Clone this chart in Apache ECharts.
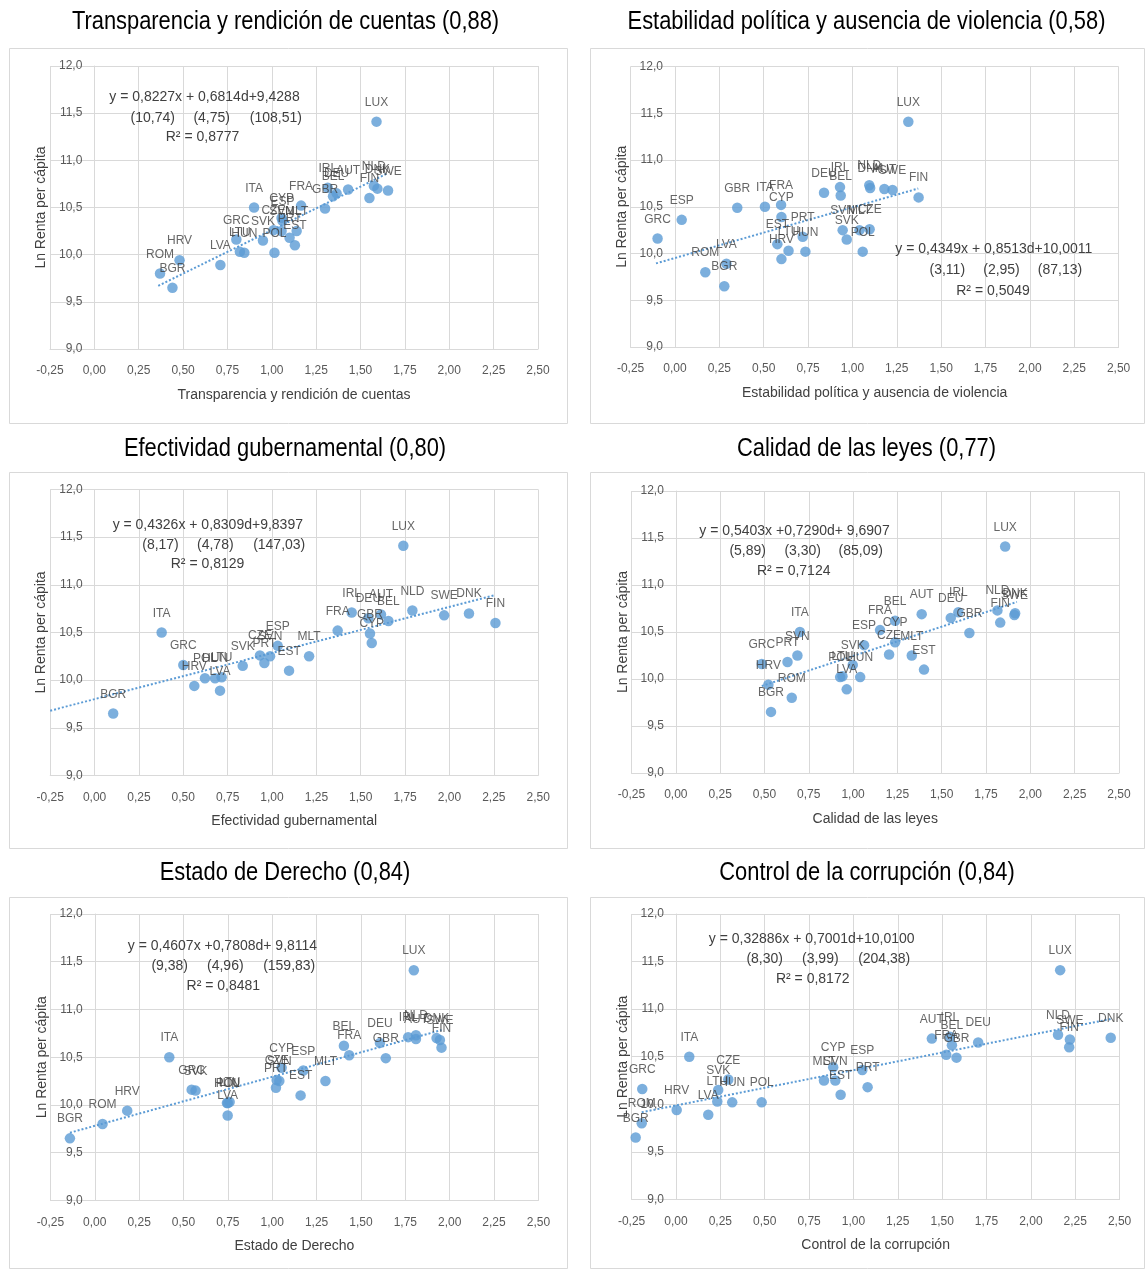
<!DOCTYPE html>
<html>
<head>
<meta charset="utf-8">
<script src="https://cdn.jsdelivr.net/npm/echarts@6/dist/echarts.min.js"></script>
<style>
  html, body { margin: 0; padding: 0; background: #ffffff; }
  #chart { width: 1145px; height: 1269px; }
</style>
</head>
<body>
<div id="chart"></div>
<script>
// Países de la UE-28 (mismo orden en todas las series)
const countries = ['AUT','BEL','BGR','CYP','CZE','DEU','DNK','ESP','EST','FIN','FRA','GBR','GRC','HRV',
                   'HUN','IRL','ITA','LTU','LUX','LVA','MLT','NLD','POL','PRT','ROM','SVK','SVN','SWE'];

// Logaritmo de la renta per cápita
const lnRentaPerCapita = [10.69, 10.62, 9.65, 10.39, 10.26, 10.65, 10.70, 10.36, 10.10, 10.60, 10.52, 10.49, 10.16, 9.94,
                          10.02, 10.71, 10.50, 10.03, 11.41, 9.89, 10.25, 10.73, 10.02, 10.18, 9.80, 10.15, 10.25, 10.68];

// Indicadores de gobernanza (null = fuera del rango representado)
const transparencia = [1.43, 1.345, 0.44, 1.055, 1.01, 1.365, 1.595, 1.06, 1.13, 1.55, 1.165, 1.30, 0.80, 0.48,
                       0.845, 1.315, 0.90, 0.82, 1.59, 0.71, 1.14, 1.575, 1.015, 1.10, 0.37, 0.95, 1.055, 1.655];
const estabilidad = [1.18, 0.934, 0.278, 0.60, 1.097, 0.84, 1.10, 0.038, 0.577, 1.373, 0.598, 0.351, -0.098, 0.60,
                     0.735, 0.93, 0.507, 0.64, 1.315, 0.29, 1.04, 1.095, 1.058, 0.72, 0.171, 0.968, 0.945, 1.226];
const efectividad = [1.614, 1.656, 0.105, 1.562, 0.932, 1.543, 2.11, 1.032, 1.096, 2.259, 1.37, 1.552, 0.50, 0.562,
                     0.679, 1.449, 0.378, 0.716, 1.74, 0.707, 1.209, 1.791, 0.622, 0.957, null, 0.835, 0.989, 1.97];
const calidadLeyes = [1.387, 1.237, 0.537, 1.237, 1.203, 1.551, 1.914, 1.062, 1.40, 1.83, 1.152, 1.656, 0.485, 0.522,
                      1.04, 1.594, 0.70, 0.94, 1.858, 0.964, 1.331, 1.814, 0.927, 0.63, 0.654, 0.998, 0.686, 1.91];
const estadoDerecho = [1.81, 1.404, -0.14, 1.053, 1.025, 1.607, 1.926, 1.175, 1.16, 1.954, 1.434, 1.64, 0.546, 0.183,
                       0.745, 1.766, 0.42, 0.76, 1.798, 0.749, 1.30, 1.81, 0.75, 1.021, 0.044, 0.568, 1.04, 1.945];
const controlCorrupcion = [1.442, 1.555, -0.227, 0.886, 0.295, 1.703, 2.45, 1.05, 0.928, 2.216, 1.523, 1.581, -0.19, 0.004,
                           0.317, 1.544, 0.075, 0.233, 2.165, 0.182, 0.834, 2.153, 0.483, 1.08, -0.193, 0.238, 0.898, 2.22];

const indicators = [transparencia, estabilidad, efectividad, calidadLeyes, estadoDerecho, controlCorrupcion];

// Líneas de tendencia lineal: extremos [x, y] inicial y final de cada panel
const trendStart = [[0.36, 9.67], [-0.107, 9.894], [-0.25, 9.68], [0.485, 9.925], [-0.14, 9.709], [-0.193, 9.916]];
const trendEnd   = [[1.65, 10.86], [1.371, 10.695], [2.25, 10.89], [1.924, 10.82], [1.954, 10.784], [2.45, 10.896]];

const panelTitles = ['Transparencia y rendición de cuentas (0,88)', 'Estabilidad política y ausencia de violencia (0,58)',
                     'Efectividad gubernamental (0,80)', 'Calidad de las leyes (0,77)',
                     'Estado de Derecho (0,84)', 'Control de la corrupción (0,84)'];
const xAxisNames = ['Transparencia y rendición de cuentas', 'Estabilidad política y ausencia de violencia',
                    'Efectividad gubernamental', 'Calidad de las leyes', 'Estado de Derecho', 'Control de la corrupción'];
const yAxisName = 'Ln Renta per cápita';

// Ecuaciones estimadas (t-estadísticos entre paréntesis) y R²
const eqLine1 = ['y = 0,8227x + 0,6814d+9,4288', 'y = 0,4349x + 0,8513d+10,0011', 'y = 0,4326x + 0,8309d+9,8397',
                 'y = 0,5403x +0,7290d+ 9,6907', 'y = 0,4607x +0,7808d+ 9,8114', 'y = 0,32886x + 0,7001d+10,0100'];
const eqTStats = [['(10,74)', '(4,75)', '(108,51)'], ['(3,11)', '(2,95)', '(87,13)'], ['(8,17)', '(4,78)', '(147,03)'],
                  ['(5,89)', '(3,30)', '(85,09)'], ['(9,38)', '(4,96)', '(159,83)'], ['(8,30)', '(3,99)', '(204,38)']];
const eqR2 = ['R² = 0,8777', 'R² = 0,5049', 'R² = 0,8129', 'R² = 0,7124', 'R² = 0,8481', 'R² = 0,8172'];

const xTicks = { min: -0.25, max: 2.5, interval: 0.25 };
const yTicks = { min: 9, max: 12, interval: 0.5 };

// Posición de cada panel: área de trazado, marco, título y cuadro de ecuación
const layout = [
  { grid: { left: 50, top: 66, width: 488, height: 283 }, box: [9.5, 48.5, 558, 375], title: [285.5, 22],
    eq: { l1: [204.5, 97.5], l2: [[152.7, 118], [211.7, 118], [275.8, 118]], l3: [202.5, 137.5] } },
  { grid: { left: 630.6, top: 66.5, width: 488, height: 280.5 }, box: [590.5, 48.5, 554, 375], title: [866.5, 22],
    eq: { l1: [993.8, 249.3], l2: [[947.3, 270], [1001.5, 270], [1060, 270]], l3: [993, 291.5] } },
  { grid: { left: 50.2, top: 489.5, width: 488, height: 286 }, box: [9.5, 472.5, 558, 376], title: [285, 449],
    eq: { l1: [207.8, 525], l2: [[160.5, 545], [215.3, 545], [279.2, 545]], l3: [207.5, 564.5] } },
  { grid: { left: 631.5, top: 491, width: 487.5, height: 282 }, box: [590.5, 472.5, 554, 376], title: [866.5, 449],
    eq: { l1: [794.5, 531], l2: [[747.7, 551.5], [802.7, 551.5], [860.8, 551.5]], l3: [793.7, 571.5] } },
  { grid: { left: 50.4, top: 914, width: 488, height: 286.4 }, box: [9.5, 897.5, 558, 371], title: [285, 873],
    eq: { l1: [222.5, 946], l2: [[169.7, 966], [225.3, 966], [289.2, 966]], l3: [223.3, 986.5] } },
  { grid: { left: 631.6, top: 914, width: 488, height: 285.4 }, box: [590.5, 897.5, 554, 371], title: [867, 873],
    eq: { l1: [811.7, 939.3], l2: [[764.7, 959.3], [820.3, 959.3], [884.2, 959.3]], l3: [812.7, 979.3] } }
];

const BLUE = '#5B9BD5';
const GRID_GRAY = '#D9D9D9';
const TEXT_DARK = '#404040';
const BASE_FONT = "'Liberation Sans', Arial, sans-serif";

const fmtComma = (d) => (v) => v.toFixed(d).replace('.', ',');

const grids = [], xAxes = [], yAxes = [], series = [], graphics = [];

layout.forEach((L, i) => {
  grids.push(Object.assign({ containLabel: false }, L.grid));

  xAxes.push({
    gridIndex: i, type: 'value', min: xTicks.min, max: xTicks.max, interval: xTicks.interval,
    axisLine: { show: true, onZero: false, lineStyle: { color: GRID_GRAY, width: 1 } },
    axisTick: { show: false },
    splitLine: { show: true, lineStyle: { color: GRID_GRAY, width: 1 } },
    axisLabel: { formatter: fmtComma(2), fontSize: 12, color: '#595959', margin: 16, fontFamily: BASE_FONT },
    name: xAxisNames[i], nameLocation: 'middle', nameGap: 39,
    nameTextStyle: { fontSize: 14, color: TEXT_DARK, fontFamily: BASE_FONT }
  });

  // El eje vertical corta al horizontal en x = 0
  const yAxisShift = -(0 - xTicks.min) / (xTicks.max - xTicks.min) * L.grid.width;
  yAxes.push({
    gridIndex: i, type: 'value', min: yTicks.min, max: yTicks.max, interval: yTicks.interval,
    offset: yAxisShift,
    axisLine: { show: true, onZero: false, lineStyle: { color: GRID_GRAY, width: 1 } },
    axisTick: { show: false },
    splitLine: { show: true, lineStyle: { color: GRID_GRAY, width: 1 } },
    axisLabel: { formatter: fmtComma(1), fontSize: 12, color: '#595959', margin: 12, fontFamily: BASE_FONT,
                 padding: [4, 0, 0, 0] },
    name: yAxisName, nameLocation: 'middle', nameGap: 46,
    nameTextStyle: { fontSize: 14, color: TEXT_DARK, fontFamily: BASE_FONT }
  });

  const xs = indicators[i];
  const pts = [];
  xs.forEach((x, k) => { if (x !== null) pts.push({ name: countries[k], value: [x, lnRentaPerCapita[k]] }); });

  series.push({
    type: 'line', xAxisIndex: i, yAxisIndex: i, data: [trendStart[i], trendEnd[i]],
    symbol: 'none', silent: true, z: 2,
    lineStyle: { color: BLUE, width: 2, type: [2, 2] }
  });

  series.push({
    type: 'scatter', xAxisIndex: i, yAxisIndex: i, data: pts, symbolSize: 10.5, z: 3,
    itemStyle: { color: BLUE },
    label: { show: true, position: 'top', distance: 8, formatter: '{b}', fontSize: 12,
             color: TEXT_DARK, fontFamily: BASE_FONT }
  });

  // Marco del panel
  graphics.push({ type: 'rect', shape: { x: L.box[0], y: L.box[1], width: L.box[2], height: L.box[3] },
                  style: { fill: null, stroke: GRID_GRAY, lineWidth: 1 }, z: 0 });
  // Título (letra estrecha)
  graphics.push({ type: 'text', x: L.title[0], y: L.title[1], scaleX: 0.875,
                  style: { text: panelTitles[i], fontSize: 25, fontFamily: BASE_FONT, fill: '#000000',
                           textAlign: 'center', textVerticalAlign: 'middle' }, z: 10 });
  // Ecuación
  const eqText = (t, p) => ({ type: 'text', x: p[0], y: p[1],
                              style: { text: t, fontSize: 14, fontFamily: BASE_FONT, fill: TEXT_DARK,
                                       textAlign: 'center', textVerticalAlign: 'middle' }, z: 10 });
  graphics.push(eqText(eqLine1[i], L.eq.l1));
  eqTStats[i].forEach((t, k) => graphics.push(eqText(t, L.eq.l2[k])));
  graphics.push(eqText(eqR2[i], L.eq.l3));
});

const chart = echarts.init(document.getElementById('chart'), null, { renderer: 'canvas' });
chart.setOption({
  animation: false,
  backgroundColor: '#ffffff',
  grid: grids,
  xAxis: xAxes,
  yAxis: yAxes,
  series: series,
  graphic: { elements: graphics }
});
</script>
</body>
</html>
